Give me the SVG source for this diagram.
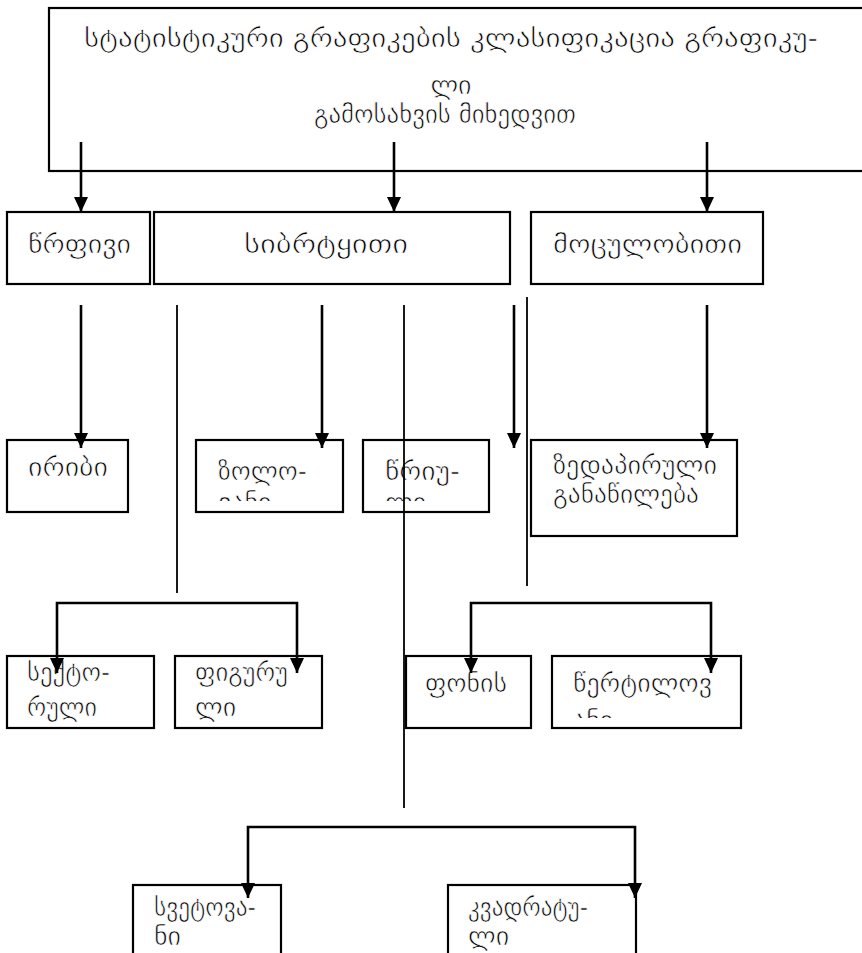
<svg xmlns="http://www.w3.org/2000/svg" width="862" height="953" viewBox="0 0 862 953">
  <style>
    .box { fill: #ffffff; stroke: #000000; stroke-width: 2.2; }
    .lbl { font-family: "DejaVu Sans", "DejaVu Serif", sans-serif; font-size: 26px; fill: #000000; stroke: #ffffff; stroke-width: 0.7; }
    .arrow { fill: none; stroke: #000000; stroke-width: 2.6; marker-end: url(#head); }
    .bracket { fill: none; stroke: #000000; stroke-width: 2.6; marker-start: url(#head); marker-end: url(#head); }
    .thin { fill: none; stroke: #000000; stroke-width: 1.8; }
  </style>
  <defs>
    <marker id="head" markerUnits="userSpaceOnUse" markerWidth="15" markerHeight="14" refX="15" refY="7" orient="auto-start-reverse">
      <path d="M0,0 L15,7 L0,14 Z" fill="#000000"/>
    </marker>
    <clipPath id="clipZol"><rect x="196" y="440" width="147" height="61"/></clipPath>
    <clipPath id="clipTsr"><rect x="363" y="440" width="126" height="61"/></clipPath>
    <clipPath id="clipTser"><rect x="552" y="656" width="189" height="62"/></clipPath>
  </defs>
  <rect width="862" height="953" fill="#ffffff"/>

  <!-- title -->
  <g id="title">
    <rect class="box" x="49" y="8" width="830" height="163"/>
    <text class="lbl" x="84" y="47" textLength="734" lengthAdjust="spacingAndGlyphs">სტატისტიკური გრაფიკების კლასიფიკაცია გრაფიკუ-</text>
    <text class="lbl" x="451" y="94" text-anchor="middle">ლი</text>
    <text class="lbl" x="445" y="123" text-anchor="middle" textLength="262" lengthAdjust="spacingAndGlyphs">გამოსახვის მიხედვით</text>
  </g>

  <!-- second level -->
  <g id="linear">
    <rect class="box" x="7" y="212" width="143" height="72"/>
    <text class="lbl" x="28" y="253" textLength="103" lengthAdjust="spacingAndGlyphs">წრფივი</text>
  </g>
  <g id="planar">
    <rect class="box" x="154" y="212" width="356" height="72"/>
    <text class="lbl" x="244" y="253" textLength="164" lengthAdjust="spacingAndGlyphs">სიბრტყითი</text>
  </g>
  <g id="volume">
    <rect class="box" x="531" y="212" width="232" height="72"/>
    <text class="lbl" x="553" y="253" textLength="189" lengthAdjust="spacingAndGlyphs">მოცულობითი</text>
  </g>

  <!-- third level -->
  <g id="oblique">
    <rect class="box" x="7" y="440" width="121" height="72"/>
    <text class="lbl" x="28" y="476" textLength="80" lengthAdjust="spacingAndGlyphs">ირიბი</text>
  </g>
  <g id="strip">
    <rect class="box" x="196" y="440" width="147" height="72"/>
    <g clip-path="url(#clipZol)">
      <text class="lbl" x="218" y="480" textLength="89" lengthAdjust="spacingAndGlyphs">ზოლო-</text>
      <text class="lbl" x="218" y="511">ვანი</text>
    </g>
  </g>
  <g id="circular">
    <rect class="box" x="363" y="440" width="126" height="72"/>
    <g clip-path="url(#clipTsr)">
      <text class="lbl" x="385" y="480" textLength="75" lengthAdjust="spacingAndGlyphs">წრიუ-</text>
      <text class="lbl" x="385" y="511">ლი</text>
    </g>
  </g>
  <g id="surface">
    <rect class="box" x="531" y="440" width="206" height="96"/>
    <text class="lbl" x="553" y="474" textLength="164" lengthAdjust="spacingAndGlyphs">ზედაპირული</text>
    <text class="lbl" x="553" y="503" textLength="146" lengthAdjust="spacingAndGlyphs">განაწილება</text>
  </g>

  <!-- fourth level -->
  <g id="sector">
    <rect class="box" x="7" y="656" width="147" height="72"/>
    <text class="lbl" x="27" y="681" textLength="83" lengthAdjust="spacingAndGlyphs">სექტო-</text>
    <text class="lbl" x="27" y="716" textLength="70" lengthAdjust="spacingAndGlyphs">რული</text>
  </g>
  <g id="figure">
    <rect class="box" x="175" y="656" width="147" height="72"/>
    <text class="lbl" x="195" y="681" textLength="93" lengthAdjust="spacingAndGlyphs">ფიგურუ</text>
    <text class="lbl" x="195" y="716">ლი</text>
  </g>
  <g id="background">
    <rect class="box" x="406" y="656" width="125" height="72"/>
    <text class="lbl" x="425" y="692" textLength="82" lengthAdjust="spacingAndGlyphs">ფონის</text>
  </g>
  <g id="dotted">
    <rect class="box" x="552" y="656" width="189" height="72"/>
    <g clip-path="url(#clipTser)">
      <text class="lbl" x="573" y="692" textLength="139" lengthAdjust="spacingAndGlyphs">წერტილოვ</text>
      <text class="lbl" x="573" y="729">ანი</text>
    </g>
  </g>

  <!-- fifth level -->
  <g id="column">
    <rect class="box" x="133" y="885" width="148" height="90"/>
    <text class="lbl" x="154" y="916" textLength="102" lengthAdjust="spacingAndGlyphs">სვეტოვა-</text>
    <text class="lbl" x="154" y="945">ნი</text>
  </g>
  <g id="square">
    <rect class="box" x="448" y="885" width="188" height="90"/>
    <text class="lbl" x="468" y="916" textLength="120" lengthAdjust="spacingAndGlyphs">კვადრატუ-</text>
    <text class="lbl" x="468" y="945">ლი</text>
  </g>

  <!-- connectors -->
  <g id="connectors">
    <path class="arrow" d="M81,142 V212"/>
    <path class="arrow" d="M394,142 V212"/>
    <path class="arrow" d="M707,142 V212"/>

    <path class="arrow" d="M81,305 V448"/>
    <path class="arrow" d="M322,305 V448"/>
    <path class="arrow" d="M514,305 V448"/>
    <path class="arrow" d="M707,305 V448"/>

    <path class="thin" d="M177,305 V593"/>
    <path class="thin" d="M404,305 V808"/>
    <path class="thin" d="M527,297 V586"/>

    <path class="bracket" d="M57,673 V603 H297 V673"/>
    <path class="bracket" d="M471,673 V603 H711 V673"/>
    <path class="bracket" d="M248,898 V827 H635 V898"/>
  </g>
</svg>
